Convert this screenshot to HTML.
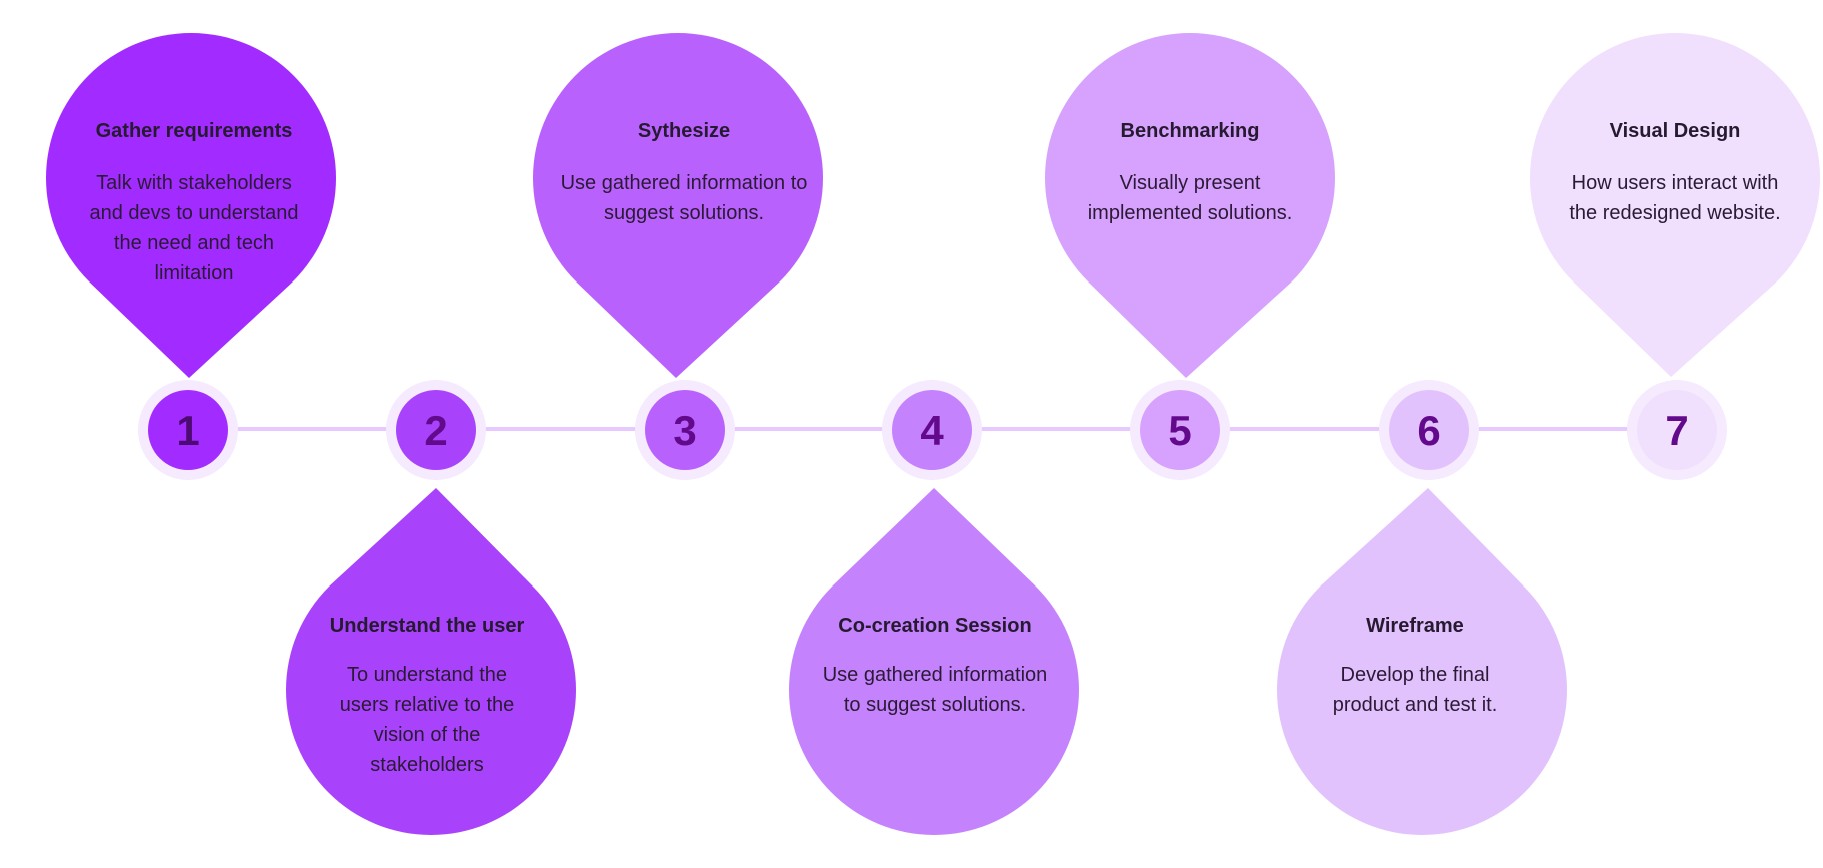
<!DOCTYPE html>
<html><head><meta charset="utf-8"><style>
html,body{margin:0;padding:0;background:#fff;}
svg{display:block;}
text{font-family:"Liberation Sans",sans-serif;text-anchor:middle;fill:#2b1a35;}
.t{font-weight:bold;font-size:20px;fill:#261a30;}
.b{font-size:20px;}
.n{font-weight:bold;font-size:42px;fill:#630a8c;}
</style></head><body>
<svg width="1823" height="868" viewBox="0 0 1823 868" xmlns="http://www.w3.org/2000/svg">
<line x1="188" y1="429" x2="1677" y2="429" stroke="#e8c9ff" stroke-width="4"/>

<g>
<circle cx="191" cy="178" r="145" fill="#a22bff"/><polygon points="89,282 293,282 189,378" fill="#a22bff"/>
<circle cx="678" cy="178" r="145" fill="#b961fc"/><polygon points="576,282 780,282 676,378" fill="#b961fc"/>
<circle cx="1190" cy="178" r="145" fill="#d6a2fd"/><polygon points="1088,282 1292,282 1186,378" fill="#d6a2fd"/>
<circle cx="1675" cy="178" r="145" fill="#f0e0fd"/><polygon points="1573,282 1777,282 1671,377" fill="#f0e0fd"/>
</g>
<g>
<circle cx="431" cy="690" r="145" fill="#a843fb"/><polygon points="329,586 533,586 436,488" fill="#a843fb"/>
<circle cx="934" cy="690" r="145" fill="#c582fd"/><polygon points="832,586 1036,586 934,488" fill="#c582fd"/>
<circle cx="1422" cy="690" r="145" fill="#e2c2fd"/><polygon points="1320,586 1524,586 1428,488" fill="#e2c2fd"/>
</g>

<g>
<circle cx="188" cy="430" r="50" fill="#f5eafe"/><circle cx="188" cy="430" r="40" fill="#a22bff"/>
<circle cx="436" cy="430" r="50" fill="#f5eafe"/><circle cx="436" cy="430" r="40" fill="#a843fb"/>
<circle cx="685" cy="430" r="50" fill="#f5eafe"/><circle cx="685" cy="430" r="40" fill="#b961fc"/>
<circle cx="932" cy="430" r="50" fill="#f5eafe"/><circle cx="932" cy="430" r="40" fill="#c582fd"/>
<circle cx="1180" cy="430" r="50" fill="#f5eafe"/><circle cx="1180" cy="430" r="40" fill="#d6a2fd"/>
<circle cx="1429" cy="430" r="50" fill="#f5eafe"/><circle cx="1429" cy="430" r="40" fill="#e2c2fd"/>
<circle cx="1677" cy="430" r="50" fill="#f5eafe"/><circle cx="1677" cy="430" r="40" fill="#f0e0fd"/>
</g>
<g>
<text class="n" x="188" y="445" style="fill:#4e0a73">1</text>
<text class="n" x="436" y="445">2</text>
<text class="n" x="685" y="445">3</text>
<text class="n" x="932" y="445">4</text>
<text class="n" x="1180" y="445">5</text>
<text class="n" x="1429" y="445">6</text>
<text class="n" x="1677" y="445">7</text>
</g>

<text class="t" x="194" y="137">Gather requirements</text>
<text class="b" x="194" y="189">Talk with stakeholders</text>
<text class="b" x="194" y="219">and devs to understand</text>
<text class="b" x="194" y="249">the need and tech</text>
<text class="b" x="194" y="279">limitation</text>

<text class="t" x="684" y="137">Sythesize</text>
<text class="b" x="684" y="189">Use gathered information to</text>
<text class="b" x="684" y="219">suggest solutions.</text>

<text class="t" x="1190" y="137">Benchmarking</text>
<text class="b" x="1190" y="189">Visually present</text>
<text class="b" x="1190" y="219">implemented solutions.</text>

<text class="t" x="1675" y="137">Visual Design</text>
<text class="b" x="1675" y="189">How users interact with</text>
<text class="b" x="1675" y="219">the redesigned website.</text>

<text class="t" x="427" y="632">Understand the user</text>
<text class="b" x="427" y="681">To understand the</text>
<text class="b" x="427" y="711">users relative to the</text>
<text class="b" x="427" y="741">vision of the</text>
<text class="b" x="427" y="771">stakeholders</text>

<text class="t" x="935" y="632">Co-creation Session</text>
<text class="b" x="935" y="681">Use gathered information</text>
<text class="b" x="935" y="711">to suggest solutions.</text>

<text class="t" x="1415" y="632">Wireframe</text>
<text class="b" x="1415" y="681">Develop the final</text>
<text class="b" x="1415" y="711">product and test it.</text>
</svg>
</body></html>
